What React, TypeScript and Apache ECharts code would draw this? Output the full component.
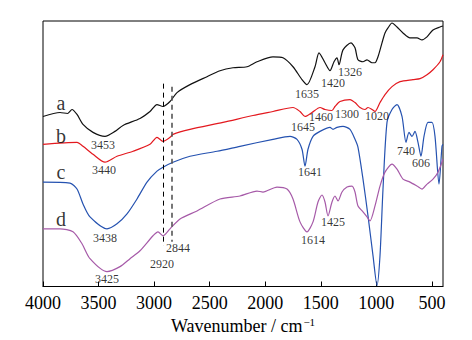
import React, { useEffect, useRef } from "react";
import * as echarts from "echarts";

// Wavenumbers (cm^-1) and relative transmittance values
const wnA = [4000, 3847, 3780, 3739, 3694, 3640, 3550, 3442, 3352, 3280, 3127, 3037, 2974, 2920, 2857, 2794, 2677, 2524, 2407, 2290, 2164, 2074, 1930, 1840, 1750, 1669, 1624, 1552, 1516, 1462, 1417, 1381, 1354, 1336, 1300, 1228, 1192, 1165, 1120, 1084, 1039, 1012, 985, 949, 922, 895, 859, 814, 760, 697, 634, 589, 544, 490, 427, 400];
const tA = [171, 175, 174, 178, 173, 163, 155, 151, 156, 162, 169, 176, 183, 181, 186, 195, 203, 211, 217, 220, 221, 226, 231, 230, 221, 208, 203, 221, 235, 225, 217, 226, 230, 223, 238, 245, 240, 228, 226, 228, 225, 225, 231, 245, 255, 260, 265, 261, 255, 250, 250, 248, 251, 258, 261, 262];

const wnB = [4000, 3694, 3640, 3550, 3442, 3334, 3190, 3037, 2974, 2920, 2857, 2830, 2677, 2380, 2110, 1930, 1750, 1687, 1642, 1579, 1507, 1462, 1399, 1372, 1327, 1237, 1192, 1147, 1102, 1075, 1039, 1012, 967, 922, 859, 787, 670, 607, 544, 490, 427, 400];
const tB = [143, 145, 141, 133, 125, 131, 136, 143, 150, 146, 150, 153, 158, 165, 172, 176, 180, 176, 171, 175, 180, 178, 177, 181, 186, 188, 185, 180, 178, 180, 178, 176, 185, 193, 201, 206, 208, 209, 213, 218, 226, 233];

const wnC = [4000, 3757, 3694, 3640, 3577, 3424, 3334, 3244, 3154, 3064, 2974, 2920, 2830, 2677, 2434, 2227, 1930, 1777, 1714, 1669, 1642, 1615, 1570, 1507, 1417, 1390, 1354, 1300, 1237, 1192, 1165, 1120, 1075, 1030, 994, 967, 940, 904, 859, 814, 769, 733, 706, 679, 652, 625, 598, 571, 535, 499, 472, 436, 409, 400];
const tC = [105, 104, 98, 83, 70, 58, 63, 73, 88, 105, 116, 120, 125, 131, 136, 141, 148, 151, 148, 138, 121, 138, 151, 156, 160, 158, 160, 161, 158, 148, 140, 108, 71, 31, 1, 31, 98, 165, 178, 183, 171, 145, 155, 151, 156, 145, 131, 151, 165, 165, 151, 103, 141, 143];

const wnD = [4000, 3847, 3730, 3649, 3577, 3424, 3307, 3217, 3127, 3010, 2965, 2920, 2857, 2767, 2614, 2407, 2227, 2074, 2020, 1894, 1804, 1750, 1687, 1624, 1570, 1525, 1489, 1462, 1435, 1399, 1372, 1345, 1309, 1264, 1219, 1192, 1165, 1120, 1084, 1057, 1012, 967, 922, 859, 814, 760, 697, 634, 589, 544, 490, 445, 400];
const tD = [58, 58, 55, 43, 28, 15, 20, 28, 36, 51, 55, 51, 58, 68, 76, 88, 91, 96, 95, 100, 98, 88, 65, 55, 65, 85, 92, 85, 71, 85, 91, 86, 95, 100, 101, 95, 81, 75, 70, 66, 81, 101, 115, 123, 118, 108, 105, 101, 98, 103, 108, 115, 128];

const tickValues = [4000, 3500, 3000, 2500, 2000, 1500, 1000, 500];

// Curve letters: [wavenumber, value, text]
const curveNames: [number, number, string][] = [
  [3838, 185, "a"],
  [3838, 151, "b"],
  [3838, 115, "c"],
  [3838, 68, "d"],
];

// Peak annotations: [wavenumber, value, text]
const peakLabels: [number, number, string][] = [
  [3460, 142, "3453"],
  [3451, 117, "3440"],
  [3442, 49, "3438"],
  [3424, 8, "3425"],
  [2929, 23, "2920"],
  [2785, 39, "2844"],
  [1624, 194, "1635"],
  [1390, 205, "1420"],
  [1237, 216, "1326"],
  [1660, 160, "1645"],
  [1498, 170, "1460"],
  [1264, 173, "1300"],
  [994, 171, "1020"],
  [1597, 115, "1641"],
  [733, 136, "740"],
  [598, 124, "606"],
  [1570, 47, "1614"],
  [1390, 65, "1425"],
];

// Dashed guide lines: [wavenumber, from value, to value]
const guide2920: [number, number, number] = [2920, 204, 41];
const guide2844: [number, number, number] = [2844, 201, 45];

const zip = (xs: number[], ys: number[]) => xs.map((x, i) => [x, ys[i]]);

const FONT = "'Liberation Serif', 'Times New Roman', serif";

export default function App() {
  const ref = useRef<HTMLDivElement>(null);
  useEffect(() => {
    if (!ref.current) return;
    const chart = echarts.init(ref.current, null, { renderer: "svg" });
    const lineSeries = (data: number[][], color: string, extra: any = {}) => ({
      type: "line",
      data,
      showSymbol: false,
      symbol: "none",
      smooth: 0.25,
      lineStyle: { color, width: 1.2 },
      z: 3,
      ...extra,
    });
    const textLabel = (size: number) => ({
      show: true,
      position: "inside",
      formatter: (p: any) => p.data[2],
      fontSize: size,
      fontFamily: FONT,
      color: "#000",
      textBorderWidth: 0,
      textBorderColor: "transparent",
      textShadowBlur: 0,
    });
    chart.setOption({
      animation: false,
      backgroundColor: "#fff",
      textStyle: { fontFamily: FONT },
      grid: {
        left: 43,
        right: 29,
        top: 21,
        bottom: 52,
        show: true,
        borderColor: "#000",
        borderWidth: 1,
      },
      xAxis: {
        type: "value",
        min: 400,
        max: 4000,
        inverse: true,
        splitLine: { show: false },
        axisLine: { show: true, lineStyle: { color: "#000", width: 1 } },
        axisTick: {
          show: true,
          inside: true,
          length: 5,
          customValues: tickValues,
          lineStyle: { color: "#000" },
        },
        axisLabel: {
          customValues: tickValues,
          formatter: (v: number) => String(v),
          color: "#000",
          fontSize: 18,
          fontFamily: FONT,
          margin: 7,
        },
        name: "{t|Wavenumber / cm}{s|−1}",
        nameLocation: "middle",
        nameGap: 30,
        nameTextStyle: {
          rich: {
            t: { fontSize: 18, fontFamily: FONT, color: "#000" },
            s: {
              fontSize: 11,
              fontFamily: FONT,
              color: "#000",
              verticalAlign: "top",
              padding: [0, 0, 8, 1],
            },
          },
        },
      },
      yAxis: {
        type: "value",
        min: 0,
        max: 267,
        show: false,
      },
      series: [
        lineSeries(zip(wnA, tA), "#111", {
          markLine: {
            silent: true,
            symbol: "none",
            label: { show: false },
            data: [
              [
                {
                  coord: [guide2920[0], guide2920[1]],
                  lineStyle: { type: [5, 4], color: "#000", width: 1 },
                },
                { coord: [guide2920[0], guide2920[2]] },
              ],
              [
                {
                  coord: [guide2844[0], guide2844[1]],
                  lineStyle: { type: [5, 4], color: "#555", width: 1.6 },
                },
                { coord: [guide2844[0], guide2844[2]] },
              ],
            ],
          },
        }),
        lineSeries(zip(wnB, tB), "#e3191f"),
        lineSeries(zip(wnC, tC), "#2552b0"),
        lineSeries(zip(wnD, tD), "#a65aa8"),
        {
          type: "scatter",
          data: curveNames,
          symbolSize: 0,
          z: 5,
          label: textLabel(20),
        },
        {
          type: "scatter",
          data: peakLabels,
          symbolSize: 0,
          z: 5,
          label: textLabel(12),
        },
      ],
    });
    return () => chart.dispose();
  }, []);
  return (
    <div
      ref={ref}
      style={{ position: "fixed", left: 0, top: 0, width: 472, height: 340 }}
    />
  );
}
